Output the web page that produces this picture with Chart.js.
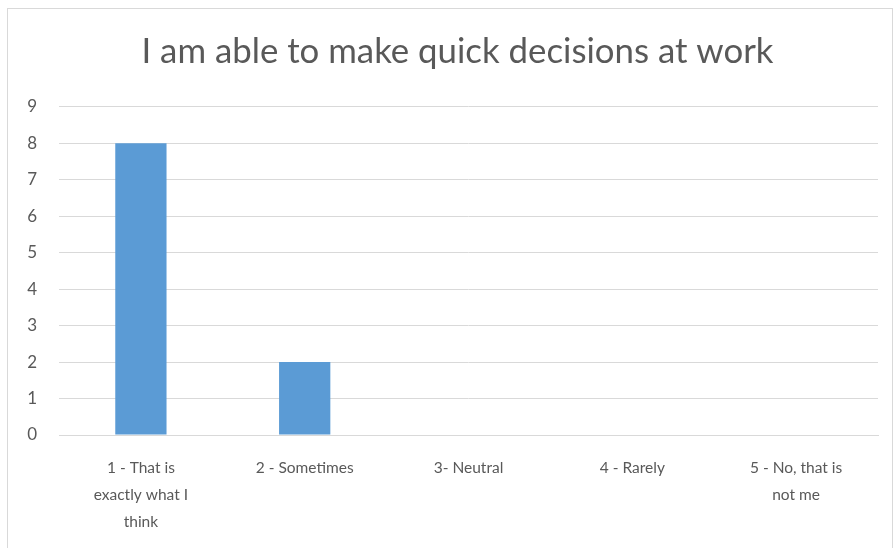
<!DOCTYPE html>
<html>
<head>
<meta charset="utf-8">
<title>Quick decisions</title>
<script src="https://cdn.jsdelivr.net/npm/chart.js@4/dist/chart.umd.min.js"></script>
<style>
  html, body { margin: 0; padding: 0; background: #fff; }
  #wrap { position: relative; width: 894px; height: 548px; }
</style>
</head>
<body>
<div id="wrap"><canvas id="chart" width="894" height="548"></canvas></div>
<script>
// survey answers and counts
const answers = [
  ['1 - That is', 'exactly what I', 'think'],
  '2 - Sometimes',
  '3- Neutral',
  '4 - Rarely',
  ['5 - No, that is', 'not me']
];
const counts = [8, 2, 0, 0, 0];
const yTicks = [0, 1, 2, 3, 4, 5, 6, 7, 8, 9];

const textColor = '#595959';
const gridColor = '#d9d9d9';
const fontFamily = 'Lato, "Open Sans", sans-serif';

// thin frame around the chart
const frame = {
  id: 'frame',
  beforeDraw(chart) {
    const c = chart.ctx;
    c.save();
    c.strokeStyle = '#d9d9d9';
    c.lineWidth = 1;
    c.strokeRect(7.5, 8.5, 885, 560);
    c.restore();
  }
};

// nudge the title box so the heading sits a bit right of centre
const titleShift = {
  id: 'titleShift',
  afterLayout(chart) {
    if (chart.titleBlock) chart.titleBlock.left += 30;
  }
};

new Chart(document.getElementById('chart'), {
  type: 'bar',
  data: {
    labels: answers,
    datasets: [{
      data: counts,
      backgroundColor: '#5b9bd5',
      borderWidth: 0,
      categoryPercentage: 1,
      barPercentage: 0.313
    }]
  },
  options: {
    responsive: false,
    animation: false,
    layout: { padding: { left: 7, right: 16, top: 8, bottom: 0 } },
    plugins: {
      legend: { display: false },
      tooltip: { enabled: false },
      title: {
        display: true,
        text: 'I am able to make quick decisions at work',
        color: textColor,
        font: { family: fontFamily, size: 34.8, weight: 'normal', lineHeight: 1.2 },
        padding: { top: 23, bottom: 34 }
      }
    },
    scales: {
      x: {
        grid: { display: false },
        border: { color: gridColor },
        ticks: {
          color: textColor,
          font: { family: fontFamily, size: 15.5, lineHeight: 1.75 },
          maxRotation: 0,
          autoSkip: false,
          padding: 11
        },
        afterFit(scale) { scale.height = 113; }
      },
      y: {
        min: 0,
        max: 9,
        afterBuildTicks(scale) { scale.ticks = yTicks.map(v => ({ value: v })); },
        grid: { color: gridColor, drawTicks: false },
        border: { display: false },
        ticks: {
          color: textColor,
          font: { family: fontFamily, size: 17 },
          padding: 22
        },
        afterFit(scale) { scale.width = 52; }
      }
    }
  },
  plugins: [frame, titleShift]
});
</script>
</body>
</html>
